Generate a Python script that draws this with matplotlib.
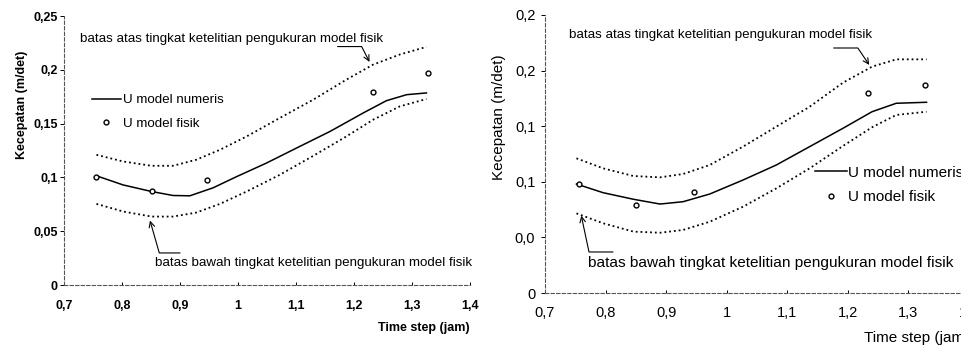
import matplotlib
matplotlib.use("Agg")
import matplotlib.pyplot as plt

plt.rcParams['font.family'] = ['Liberation Sans', 'DejaVu Sans']

# measured points (U model fisik)
x_fisik = [0.756, 0.851, 0.946, 1.233, 1.328]
y_fisik_a = [0.100, 0.087, 0.098, 0.179, 0.197]
y_fisik_b = [0.098, 0.079, 0.091, 0.180, 0.187]

# left panel: numerical model and accuracy bounds
x_num_a = [0.756, 0.802, 0.851, 0.888, 0.917, 0.957, 0.998, 1.049, 1.101,
           1.159, 1.216, 1.256, 1.291, 1.325]
num_a = [0.1015, 0.093, 0.0869, 0.0832, 0.0829, 0.0903, 0.1008, 0.1133,
         0.1273, 0.1428, 0.1599, 0.1713, 0.1769, 0.1785]
x_band_a = [0.756, 0.802, 0.851, 0.888, 0.928, 0.969, 1.015, 1.072, 1.130,
            1.187, 1.233, 1.279, 1.325]
upper_a = [0.121, 0.1148, 0.1108, 0.1108, 0.1164, 0.1257, 0.1381, 0.1552,
           0.1723, 0.1909, 0.2048, 0.2142, 0.2213]
lower_a = [0.0754, 0.0683, 0.0636, 0.0636, 0.0673, 0.0754, 0.0869, 0.1024,
           0.1201, 0.1381, 0.1536, 0.166, 0.1729]

# right panel
x_b = [0.752, 0.796, 0.846, 0.890, 0.928, 0.972, 1.027, 1.082, 1.137,
       1.192, 1.240, 1.280, 1.330]
num_b = [0.098, 0.0902, 0.0843, 0.080, 0.0821, 0.089, 0.1016, 0.1151,
         0.1316, 0.1481, 0.163, 0.1706, 0.1715]
upper_b = [0.1211, 0.1121, 0.1052, 0.104, 0.107, 0.1151, 0.1316, 0.1496,
           0.1675, 0.1891, 0.2035, 0.2101, 0.2101]
lower_b = [0.0716, 0.0627, 0.0552, 0.0542, 0.0567, 0.0641, 0.0776, 0.0941,
           0.1121, 0.1322, 0.149, 0.1601, 0.163]

xticks = [0.7, 0.8, 0.9, 1.0, 1.1, 1.2, 1.3, 1.4]
xtick_labels = ['0,7', '0,8', '0,9', '1', '1,1', '1,2', '1,3', '1,4']
yticks = [0, 0.05, 0.1, 0.15, 0.2, 0.25]
ytick_labels_a = ['0', '0,05', '0,1', '0,15', '0,2', '0,25']
ytick_labels_b = ['0', '0,0', '0,1', '0,1', '0,2', '0,2']

txt_atas = 'batas atas tingkat ketelitian pengukuran model fisik'
txt_bawah = 'batas bawah tingkat ketelitian pengukuran model fisik'


def setup(ax, ylabels, fs, weight, ypad, xpad):
    ax.set_xlim(0.7, 1.4)
    ax.set_ylim(0, 0.25)
    for s in ['top', 'right']:
        ax.spines[s].set_visible(False)
    for s in ['left', 'bottom']:
        ax.spines[s].set_linestyle((0, (3, 2)))
        ax.spines[s].set_color('#555555')
        ax.spines[s].set_linewidth(0.8)
    ax.set_xticks(xticks)
    ax.set_xticklabels(xtick_labels, fontsize=fs, fontweight=weight)
    ax.set_yticks(yticks)
    ax.set_yticklabels(ylabels, fontsize=fs, fontweight=weight)
    ax.tick_params(axis='y', length=3, width=0.7, pad=ypad)
    ax.tick_params(axis='x', length=2, width=0.7, direction='in', pad=xpad)


def draw(ax, xn, num, xb, up, lo, yf):
    ax.plot(xb, up, color='black', linestyle=':', lw=1.3)
    ax.plot(xb, lo, color='black', linestyle=':', lw=1.3)
    ax.plot(xn, num, color='black', lw=1.1, label='U model numeris',
            solid_joinstyle='round')
    ax.plot(x_fisik, yf, linestyle='none', marker='o', ms=3.5, mfc='white',
            mec='black', mew=1.0, label='U model fisik')


fig = plt.figure(figsize=(9.62, 3.48), dpi=100)

# left panel
ax1 = fig.add_axes([0.0665, 0.181, 0.422, 0.773])
setup(ax1, ytick_labels_a, 9, 'bold', 1.5, 11)
draw(ax1, x_num_a, num_a, x_band_a, upper_a, lower_a, y_fisik_a)
ax1.legend(frameon=False, loc='center left', bbox_to_anchor=(0.068, 0.643),
           fontsize=9.6, handlelength=2.2, handletextpad=0.15, labelspacing=0.85,
           borderaxespad=0, borderpad=0)
ax1.set_ylabel('Kecepatan (m/det)', fontsize=9, fontweight='bold')
ax1.yaxis.set_label_coords(-0.088, 0.669)
ax1.text(1.0, -0.16, 'Time step (jam)', transform=ax1.transAxes, ha='right',
         va='center', fontsize=9, fontweight='bold')
ax1.text(0.728, 0.229, txt_atas, fontsize=9.6, va='center', ha='left')
ax1.annotate('', xy=(1.229, 0.205), xytext=(1.167, 0.2216),
             arrowprops=dict(arrowstyle='->', color='black', lw=0.8,
                             connectionstyle='angle,angleA=0,angleB=117,rad=0'))
ax1.text(0.857, 0.0205, txt_bawah, fontsize=9.6, va='center', ha='left')
ax1.annotate('', xy=(0.847, 0.0624), xytext=(0.905, 0.0298),
             arrowprops=dict(arrowstyle='->', color='black', lw=0.8,
                             connectionstyle='angle,angleA=180,angleB=-74,rad=0'))

# right panel
ax2 = fig.add_axes([0.5665, 0.158, 0.4407, 0.799])
setup(ax2, ytick_labels_b, 10.5, 'normal', 4, 9)
draw(ax2, x_b, num_b, x_b, upper_b, lower_b, y_fisik_b)
ax2.legend(frameon=False, loc='center left', bbox_to_anchor=(0.637, 0.388),
           fontsize=11, handlelength=2.1, handletextpad=0.05, labelspacing=0.7,
           borderaxespad=0, borderpad=0)
ax2.set_ylabel('Kecepatan (m/det)', fontsize=11)
ax2.yaxis.set_label_coords(-0.092, 0.633)
ax2.text(1.0, -0.16, 'Time step (jam)', transform=ax2.transAxes, ha='right',
         va='center', fontsize=11)
ax2.text(0.740, 0.232, txt_atas, fontsize=9.6, va='center', ha='left')
ax2.annotate('', xy=(1.238, 0.203), xytext=(1.172, 0.2203),
             arrowprops=dict(arrowstyle='->', color='black', lw=0.8,
                             connectionstyle='angle,angleA=0,angleB=124,rad=0'))
ax2.text(0.771, 0.027, txt_bawah, fontsize=11.1, va='center', ha='left')
ax2.annotate('', xy=(0.759, 0.072), xytext=(0.817, 0.0369),
             arrowprops=dict(arrowstyle='->', color='black', lw=0.8,
                             connectionstyle='angle,angleA=180,angleB=-78,rad=0'))

fig.savefig('out.png', dpi=100)
